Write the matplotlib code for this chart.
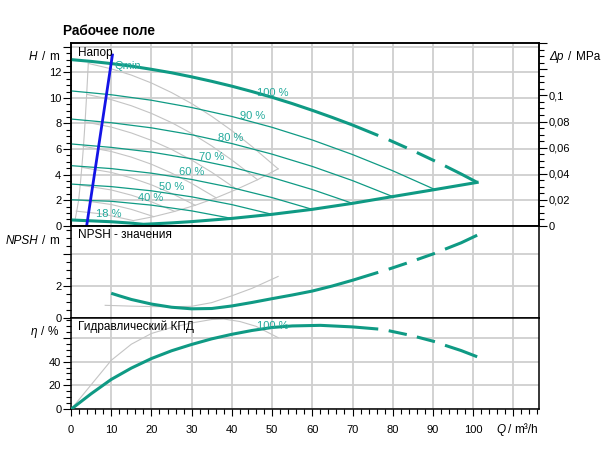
import numpy as np
import matplotlib
matplotlib.use('Agg')
import matplotlib.pyplot as plt
from matplotlib.ticker import MultipleLocator, FuncFormatter

plt.rcParams['font.family'] = ['Liberation Sans', 'DejaVu Sans']
plt.rcParams['lines.scale_dashes'] = False

# ---- data ----
# teal pump, 100 % curve (H), NPSH and efficiency
q_max = [0, 5, 10, 15, 20, 25, 30, 35, 40, 45, 50, 55, 60, 65, 70, 76.4, 79, 83.5, 86, 90.5, 93, 97, 101]
h_max = [13.0, 12.86, 12.69, 12.49, 12.24, 11.97, 11.65, 11.30, 10.92, 10.50, 10.05, 9.56, 9.03, 8.47,
         7.88, 7.06, 6.72, 6.09, 5.73, 5.06, 4.68, 4.05, 3.39]

# speed curves (H over Q)
q_90 = [0, 10, 20, 30, 40, 50, 60, 70, 80, 90.5]
h_90 = [10.55, 10.25, 9.82, 9.25, 8.55, 7.70, 6.71, 5.57, 4.30, 2.83]
q_80 = [0, 10, 20, 30, 40, 50, 60, 70, 80]
h_80 = [8.35, 8.06, 7.66, 7.12, 6.43, 5.60, 4.64, 3.53, 2.28]
q_70 = [0, 10, 20, 30, 40, 50, 60, 70]
h_70 = [6.40, 6.13, 5.76, 5.24, 4.58, 3.77, 2.83, 1.75]
q_60 = [0, 10, 20, 30, 40, 50, 60]
h_60 = [4.70, 4.47, 4.11, 3.62, 2.98, 2.20, 1.28]
q_50 = [0, 10, 20, 30, 40, 50]
h_50 = [3.26, 3.06, 2.73, 2.26, 1.65, 0.89]
q_40 = [0, 10, 20, 30, 40]
h_40 = [2.03, 1.91, 1.61, 1.16, 0.57]

# lower limit (18 % curve, then end points of speed curves)
q_min = [0, 5, 10, 15, 18, 20, 25, 30, 40, 50, 60, 70, 80, 90.5, 101]
h_min = [0.45, 0.38, 0.31, 0.20, 0.11, 0.14, 0.22, 0.32, 0.57, 0.89, 1.28, 1.75, 2.28, 2.83, 3.39]

speed_labels = ['100 %', '90 %', '80 %', '70 %', '60 %', '50 %', '40 %', '18 %']
label_q = [46.2, 42.0, 36.6, 31.9, 26.9, 21.9, 16.7, 6.2]
label_h = [10.42, 8.58, 6.9, 5.4, 4.2, 3.05, 2.19, 0.94]

# blue Qmin line
q_qmin = [3.9, 10.3]
h_qmin = [0.0, 13.36]

# grey comparison pump
grey_q = [
    [4.3, 10, 15, 20, 25, 30, 35, 40, 45, 51.5],
    [3.9, 10, 15, 20, 25, 30, 35, 40, 46.4],
    [3.4, 10, 15, 20, 25, 30, 35, 41.2],
    [3.0, 10, 15, 20, 25, 30, 36.1],
    [2.6, 10, 15, 20, 25, 30.9],
    [2.2, 10, 15, 20, 25.8],
    [1.7, 10, 15, 20.6],
    [1.3, 8, 15.5],
]
grey_h = [
    [12.70, 12.28, 11.79, 11.17, 10.42, 9.56, 8.56, 7.44, 6.20, 4.45],
    [10.28, 9.87, 9.39, 8.79, 8.07, 7.22, 6.24, 5.14, 3.60],
    [8.13, 7.72, 7.26, 6.68, 5.97, 5.14, 4.18, 2.85],
    [6.22, 5.81, 5.37, 4.81, 4.12, 3.31, 2.18],
    [4.57, 4.17, 3.75, 3.20, 2.53, 1.60],
    [3.18, 2.80, 2.39, 1.87, 1.12],
    [2.03, 1.66, 1.28, 0.71],
    [1.14, 0.91, 0.40],
]
grey_lim_q = [51.5, 46.4, 41.2, 36.1, 30.9, 25.8, 20.6, 15.5]
grey_lim_h = [4.45, 3.60, 2.85, 2.18, 1.60, 1.12, 0.71, 0.40]
grey_left_q = [4.3, 3.9, 3.5, 3.1, 2.7, 2.3, 1.9, 1.4, 1.0]
grey_left_h = [12.7, 10.3, 8.1, 6.2, 4.6, 3.2, 2.0, 1.1, 0.45]

# NPSH
q_npsh = [10, 12, 15, 20, 25, 30, 35, 40, 45, 50, 55, 60, 65, 70, 76.4, 79, 83.5, 86, 90.5, 93, 97, 101]
npsh = [1.54, 1.38, 1.15, 0.86, 0.66, 0.56, 0.58, 0.74, 0.96, 1.2, 1.43, 1.68, 2.0, 2.36, 2.86,
        3.06, 3.44, 3.66, 4.06, 4.32, 4.72, 5.2]
q_npsh_grey = [8.5, 15, 20, 25, 30, 35, 40, 45, 51.5]
npsh_grey = [0.78, 0.73, 0.70, 0.69, 0.72, 0.95, 1.38, 1.85, 2.6]

# efficiency
q_eta = [0, 5, 10, 15, 20, 25, 30, 35, 40, 45, 50, 55, 62, 70, 76.4, 79, 83.5, 86, 90.5, 93, 97, 101]
eta = [0, 13, 25, 34.5, 42.5, 49, 54.3, 59, 62.8, 66, 68.5, 69.8, 70.3, 69, 67.2, 65.8, 62.6, 60.6,
       56.6, 53.6, 49.2, 44]
q_eta_grey = [0, 5, 10, 15, 20, 25, 30, 35, 38, 42, 46, 51.5]
eta_grey = [0, 20.5, 41, 54.5, 63.5, 68.5, 72.3, 75.2, 75.6, 73.5, 69.5, 60]

# ---- styles ----
TEAL = '#0f9a84'
TEAL_TXT = '#22aa9c'
GREY = '#c4c4c4'
GRID = '#cfcfcf'
SOLID_END = 76.4
DASHES = [(79, 83.5), (86, 90.5), (93, 101)]
W, H = 613, 453


def split_plot(ax, q, v, **kw):
    q = np.asarray(q)
    v = np.asarray(v)
    m = q <= SOLID_END
    ax.plot(q[m], v[m], solid_capstyle='butt', **kw)
    for a, b in DASHES:
        m = (q >= a) & (q <= b)
        ax.plot(q[m], v[m], solid_capstyle='butt', **kw)


def style_axis(ax, ymax, ymajor, yminor):
    ax.set_xlim(0, 116.3)
    ax.set_ylim(0, ymax)
    ax.xaxis.set_major_locator(MultipleLocator(10))
    ax.xaxis.set_minor_locator(MultipleLocator(2))
    ax.yaxis.set_major_locator(MultipleLocator(ymajor))
    ax.yaxis.set_minor_locator(MultipleLocator(yminor))
    ax.grid(True, which='major', color=GRID, lw=1.3, zorder=0)
    ax.set_axisbelow(True)
    ax.tick_params(axis='y', which='major', direction='out', length=5.5, width=0.8, labelsize=8, pad=1.5)
    ax.tick_params(axis='y', which='minor', direction='out', length=3.5, width=0.8)
    ax.tick_params(axis='x', which='both', bottom=False, labelbottom=False)
    for s in ax.spines.values():
        s.set_linewidth(1.1)


def ax_rect(top, bottom, left=71, right=538.7):
    return [left / W, 1 - bottom / H, (right - left) / W, (bottom - top) / H]


fig = plt.figure(figsize=(W / 100, H / 100), dpi=100)
axH = fig.add_axes(ax_rect(43, 225.7))
axN = fig.add_axes(ax_rect(225.7, 317.7))
axE = fig.add_axes(ax_rect(317.7, 409.3))

# ---- top: head ----
style_axis(axH, 14.3, 2, 0.5)
axH.yaxis.set_major_formatter(FuncFormatter(lambda v, _: '' if v > 13 else '%d' % v))
for gq, gh in zip(grey_q, grey_h):
    axH.plot(gq, gh, color=GREY, lw=0.8, zorder=2)
axH.plot(grey_lim_q, grey_lim_h, color=GREY, lw=0.8, zorder=2)
axH.plot(grey_left_q, grey_left_h, color=GREY, lw=0.8, zorder=2)

for q, h in [(q_90, h_90), (q_80, h_80), (q_70, h_70), (q_60, h_60), (q_50, h_50), (q_40, h_40)]:
    axH.plot(q, h, color=TEAL, lw=0.9, zorder=3)
axH.plot(q_min, h_min, color=TEAL, lw=2.2, zorder=4)
split_plot(axH, q_max, h_max, color=TEAL, lw=2.2, zorder=4)
axH.plot(q_qmin, h_qmin, color='#1414e6', lw=2.0, zorder=5)

for s, lq, lh in zip(speed_labels, label_q, label_h):
    axH.text(lq, lh, s, color=TEAL_TXT, fontsize=8, ha='left', va='center', zorder=6)
axH.text(10.9, 12.5, 'Qmin', color=TEAL_TXT, fontsize=8, ha='left', va='center', zorder=6)
axH.text(1.8, 13.55, 'Напор', fontsize=8.5, ha='left', va='center', zorder=6)

axP = axH.twinx()
axP.set_ylim(0, 14.3 * 0.00981)
axP.yaxis.set_major_locator(MultipleLocator(0.02))
axP.yaxis.set_minor_locator(MultipleLocator(0.005))
axP.yaxis.set_major_formatter(FuncFormatter(
    lambda v, _: '' if v > 0.11 else ('%g' % round(v, 3)).replace('.', ',')))
axP.tick_params(axis='y', which='major', direction='out', length=5.5, width=0.8, labelsize=8, pad=1.5)
axP.tick_params(axis='y', which='minor', direction='out', length=3.5, width=0.8)
for s in axP.spines.values():
    s.set_linewidth(1.1)

# ---- middle: NPSH ----
style_axis(axN, 5.8, 2, 0.5)
axN.yaxis.set_major_formatter(FuncFormatter(lambda v, _: '' if v > 3 else '%d' % v))
axN.plot(q_npsh_grey, npsh_grey, color=GREY, lw=0.8, zorder=2)
split_plot(axN, q_npsh, npsh, color=TEAL, lw=2.2, zorder=4)
axN.text(1.8, 5.22, 'NPSH - значения', fontsize=8.5, ha='left', va='center')

# ---- bottom: efficiency ----
style_axis(axE, 76.7, 20, 5)
axE.yaxis.set_major_formatter(FuncFormatter(lambda v, _: '' if v > 50 else '%d' % v))
axE.plot(q_eta_grey, eta_grey, color=GREY, lw=0.8, zorder=2)
split_plot(axE, q_eta, eta, color=TEAL, lw=2.2, zorder=4)
axE.text(46.3, 69.4, '100 %', color=TEAL_TXT, fontsize=8, ha='left', va='center', zorder=6)
axE.text(1.8, 69.0, 'Гидравлический КПД', fontsize=8.5, ha='left', va='center')
axE.tick_params(axis='x', which='major', bottom=True, labelbottom=True, direction='out',
                length=5, width=0.8, labelsize=8, pad=6.5)
axE.tick_params(axis='x', which='minor', bottom=True, direction='out', length=3.3, width=0.8)
axE.xaxis.set_major_formatter(FuncFormatter(lambda v, _: '' if v > 105 else '%d' % v))

# ---- titles and axis labels ----
fig.text(63 / W, 1 - 31 / H, 'Рабочее поле', fontsize=9.8, fontweight='bold', ha='left', va='center')


def unit_label(x_var, x_slash, x_unit, y, var, unit):
    yy = 1 - y / H
    fig.text(x_var / W, yy, var, fontsize=8.5, style='italic', ha='left', va='center')
    fig.text(x_slash / W, yy, '/', fontsize=8.5, ha='left', va='center')
    fig.text(x_unit / W, yy, unit, fontsize=8.5, ha='left', va='center')


unit_label(29, 42, 49, 57, 'H', 'm')
unit_label(549, 568.5, 576, 57, 'Δp', 'MPa')
unit_label(6, 42, 49, 241, 'NPSH', 'm')
unit_label(31, 41, 48, 332, 'η', '%')
unit_label(496, 507.5, 514, 430, 'Q', 'm³/h')

fig.savefig('out.png', dpi=100)
